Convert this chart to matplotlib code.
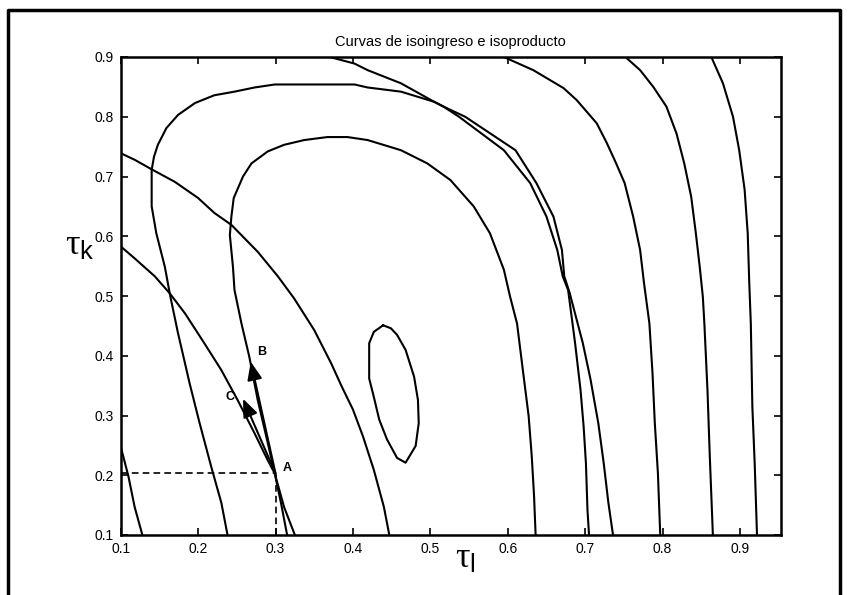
import matplotlib
matplotlib.use("Agg")
import matplotlib.pyplot as plt
from matplotlib.patches import FancyArrowPatch
from matplotlib.lines import Line2D

plt.rcParams['font.family'] = ['Liberation Sans', 'DejaVu Sans']
plt.rcParams['mathtext.fontset'] = 'custom'
plt.rcParams['mathtext.it'] = 'Liberation Serif'
plt.rcParams['mathtext.rm'] = 'Liberation Serif'
plt.rcParams['mathtext.sf'] = 'Liberation Sans'

title = "Curvas de isoingreso e isoproducto"
xticks = [0.1, 0.2, 0.3, 0.4, 0.5, 0.6, 0.7, 0.8, 0.9]
yticks = [0.1, 0.2, 0.3, 0.4, 0.5, 0.6, 0.7, 0.8, 0.9]

# isoproduct contours
ellipse_x = [0.439, 0.427, 0.421, 0.421, 0.427, 0.434, 0.444, 0.457, 0.468, 0.481, 0.485, 0.484, 0.479, 0.468, 0.457, 0.449, 0.439]
ellipse_y = [0.451, 0.440, 0.421, 0.362, 0.331, 0.293, 0.260, 0.229, 0.221, 0.249, 0.287, 0.326, 0.365, 0.410, 0.435, 0.446, 0.451]

inner_x = [0.325, 0.311, 0.299, 0.290, 0.277, 0.266, 0.256, 0.247, 0.245, 0.241, 0.243, 0.246, 0.258, 0.269, 0.290, 0.311, 0.337, 0.367, 0.393,
           0.419, 0.462, 0.496, 0.526, 0.556, 0.577, 0.595, 0.603, 0.612, 0.620, 0.627, 0.631, 0.634, 0.636]
inner_y = [0.100, 0.147, 0.203, 0.254, 0.326, 0.399, 0.454, 0.510, 0.549, 0.602, 0.633, 0.664, 0.700, 0.722, 0.742, 0.753, 0.761, 0.766, 0.766,
           0.761, 0.744, 0.722, 0.694, 0.650, 0.605, 0.544, 0.499, 0.454, 0.371, 0.299, 0.232, 0.165, 0.100]

middle_x = [0.238, 0.230, 0.217, 0.202, 0.189, 0.174, 0.164, 0.157, 0.146, 0.140, 0.140, 0.143, 0.148, 0.159, 0.174, 0.196, 0.221, 0.247, 0.273, 0.299, 0.402,
            0.419, 0.462, 0.505, 0.517, 0.537, 0.595, 0.629, 0.650, 0.664, 0.671, 0.678, 0.687, 0.694, 0.698, 0.701, 0.703, 0.705]
middle_y = [0.100, 0.154, 0.214, 0.287, 0.354, 0.438, 0.500, 0.549, 0.605, 0.650, 0.711, 0.733, 0.753, 0.781, 0.803, 0.823, 0.836, 0.842, 0.849, 0.854, 0.854,
            0.849, 0.842, 0.825, 0.817, 0.800, 0.744, 0.689, 0.633, 0.577, 0.533, 0.510, 0.421, 0.343, 0.282, 0.220, 0.142, 0.100]

# isoingreso contours
rev1_x = [0.100, 0.118, 0.140, 0.170, 0.200, 0.221, 0.243, 0.277, 0.303, 0.324, 0.350, 0.372, 0.385, 0.400, 0.413, 0.427, 0.440, 0.447]
rev1_y = [0.739, 0.728, 0.712, 0.691, 0.664, 0.639, 0.619, 0.574, 0.533, 0.496, 0.443, 0.387, 0.350, 0.310, 0.265, 0.209, 0.147, 0.100]

rev2_x = [0.100, 0.118, 0.144, 0.163, 0.183, 0.208, 0.230, 0.251, 0.273, 0.290, 0.299, 0.307, 0.315]
rev2_y = [0.583, 0.563, 0.533, 0.505, 0.471, 0.421, 0.376, 0.326, 0.270, 0.225, 0.203, 0.154, 0.100]

rev3_x = [0.100, 0.110, 0.118, 0.128]
rev3_y = [0.248, 0.198, 0.147, 0.100]

rev4_x = [0.370, 0.402, 0.419, 0.462, 0.505, 0.517, 0.545, 0.610, 0.637, 0.659, 0.670, 0.673, 0.680, 0.697, 0.707, 0.717, 0.724, 0.730, 0.736]
rev4_y = [0.900, 0.889, 0.878, 0.856, 0.825, 0.817, 0.800, 0.744, 0.689, 0.633, 0.577, 0.533, 0.505, 0.421, 0.360, 0.287, 0.220, 0.154, 0.100]

c5_x = [0.595, 0.633, 0.672, 0.689, 0.715, 0.728, 0.740, 0.751, 0.762, 0.771, 0.776, 0.783, 0.787, 0.790, 0.794, 0.797]
c5_y = [0.900, 0.878, 0.848, 0.828, 0.789, 0.756, 0.722, 0.689, 0.633, 0.577, 0.522, 0.454, 0.371, 0.287, 0.203, 0.100]

c6_x = [0.752, 0.771, 0.788, 0.805, 0.818, 0.828, 0.837, 0.843, 0.848, 0.852, 0.854, 0.858, 0.861, 0.865]
c6_y = [0.900, 0.878, 0.850, 0.817, 0.772, 0.722, 0.666, 0.605, 0.549, 0.499, 0.454, 0.343, 0.232, 0.100]

c7_x = [0.863, 0.878, 0.891, 0.899, 0.906, 0.910, 0.912, 0.914, 0.916, 0.919, 0.922]
c7_y = [0.900, 0.856, 0.800, 0.744, 0.678, 0.605, 0.522, 0.454, 0.315, 0.220, 0.100]

curves = [(ellipse_x, ellipse_y), (inner_x, inner_y), (middle_x, middle_y),
          (rev1_x, rev1_y), (rev2_x, rev2_y), (rev3_x, rev3_y), (rev4_x, rev4_y),
          (c5_x, c5_y), (c6_x, c6_y), (c7_x, c7_y)]

point_A = (0.300, 0.203)
point_B = (0.268, 0.390)
point_C = (0.258, 0.328)
label_A = ("A", 0.309, 0.212)
label_B = ("B", 0.276, 0.406)
label_C = ("C", 0.236, 0.331)

fig = plt.figure(figsize=(8.5, 5.95), dpi=100)
ax = fig.add_axes([120.7 / 850, 1 - 535 / 595, (781 - 120.7) / 850, (535 - 57) / 595])

for cx, cy in curves:
    ax.plot(cx, cy, color='black', lw=1.5, solid_joinstyle='round')

# dashed guides
ax.plot([0.1, point_A[0]], [point_A[1], point_A[1]], color='black', lw=1.2, ls=(0, (4, 2.5)))
ax.plot([point_A[0], point_A[0]], [0.1, point_A[1]], color='black', lw=1.2, ls=(0, (4, 2.5)))

for tip in (point_B, point_C):
    ax.add_patch(FancyArrowPatch(point_A, tip, arrowstyle='-|>,head_length=11,head_width=4.5',
                                 mutation_scale=1, color='black', lw=1.5, shrinkA=0, shrinkB=0))

for lab, lx, ly in (label_A, label_B, label_C):
    ax.text(lx, ly, lab, fontsize=9, fontweight='bold', ha='left', va='center')

ax.set_xlim(0.1, 0.953)
ax.set_ylim(0.1, 0.9)
ax.set_xticks(xticks)
ax.set_yticks(yticks)
ax.set_xticklabels([f"{t:g}" for t in xticks])
ax.set_yticklabels([f"{t:g}" for t in yticks])
ax.tick_params(direction='in', top=True, right=True, length=5, width=1.2, labelsize=10, pad=5)
for s in ax.spines.values():
    s.set_linewidth(1.8)

ax.set_title(title, fontsize=10.5, pad=8)

fig.text(465 / 850, 1 - 558 / 595, r'$\tau_{\mathsf{l}}$', fontsize=26, ha='center', va='center')
fig.text(80 / 850, 1 - 245 / 595, r'$\tau_{\mathsf{k}}$', fontsize=26, ha='center', va='center')

# outer frame
fig.add_artist(Line2D([8 / 850, 8 / 850, 840 / 850, 840 / 850], [-0.05, 1 - 10 / 595, 1 - 10 / 595, -0.05],
                      transform=fig.transFigure, color='black', lw=2.5))

fig.savefig('out.png', dpi=100)
